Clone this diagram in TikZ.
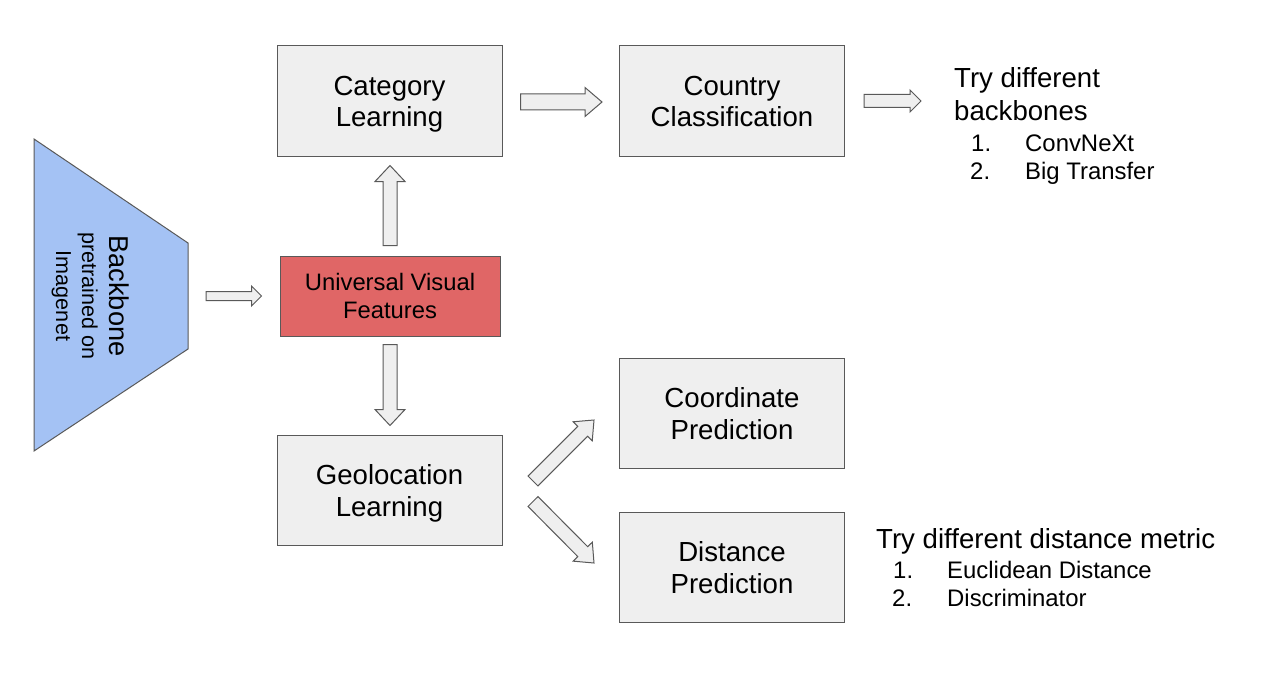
\documentclass[tikz,border=0pt]{standalone}
\usepackage{fontspec}
\setmainfont{Liberation Sans}
\usetikzlibrary{calc}
\definecolor{edge}{HTML}{595959}
\definecolor{boxfill}{HTML}{EFEFEF}
\definecolor{bbfill}{HTML}{A4C2F4}
\definecolor{uvffill}{HTML}{E06666}
\tikzset{
  procbox/.style={draw=edge, fill=boxfill, line width=1pt, minimum width=225pt, minimum height=110pt, inner sep=0pt, align=center, font=\fontsize{27.6}{32}\selectfont},
  uvfbox/.style={draw=edge, fill=uvffill, line width=1pt, minimum width=220pt, minimum height=80pt, inner sep=0pt, align=center, font=\fontsize{23.8}{28}\selectfont},
  barrow/.style={draw=edge, fill=boxfill, line width=1pt, line join=miter},
  bigtxt/.style={anchor=base west, inner sep=0pt, font=\fontsize{27.6}{32}\selectfont},
  smalltxt/.style={anchor=base west, inner sep=0pt, font=\fontsize{23.9}{28}\selectfont},
  rottxt/.style={rotate=-90, anchor=base, inner sep=0pt},
}
\newcommand\twolines[2]{\rule{0pt}{26pt}#1\\#2\rule[-6pt]{0pt}{6pt}}
% #1 tail, #2 tip, #3 shaft half width, #4 head half width, #5 head length
\newcommand\blockarrow[5]{%
  \draw[barrow] ($(#1)!#3!90:(#2)$) -- ($($(#2)!#5!(#1)$)!#3!90:(#2)$) -- ($($(#2)!#5!(#1)$)!#4!90:(#2)$) -- (#2) -- ($($(#2)!#5!(#1)$)!#4!-90:(#2)$) -- ($($(#2)!#5!(#1)$)!#3!-90:(#2)$) -- ($(#1)!#3!-90:(#2)$) -- cycle;}
\begin{document}
\begin{tikzpicture}[x=1pt,y=-1pt]
\useasboundingbox[fill=white] (0,0) rectangle (1273,682);
% backbone trapezoid
\coordinate (bbtl) at (34,139);
\coordinate (bbbl) at (34,451);
\coordinate (bbtr) at (188,243);
\coordinate (bbbr) at (188,349);
\draw[draw=edge, fill=bbfill, line width=1pt, line join=miter] (bbtl) -- (bbtr) -- (bbbr) -- (bbbl) -- cycle;
\node[rottxt, font=\fontsize{27.2}{32}\selectfont] (bb1) at (109,296) {Backbone};
\node[rottxt, font=\fontsize{21.6}{26}\selectfont] (bb2) at (82,296) {pretrained on};
\node[rottxt, font=\fontsize{21.6}{26}\selectfont] (bb3) at (56,296) {Imagenet};
% boxes
\node[procbox] (cat) at (389.5,101) {\twolines{Category}{Learning}};
\node[procbox] (country) at (732,101) {\twolines{Country}{Classification}};
\node[uvfbox] (uvf) at (390,296) {Universal Visual\\Features};
\node[procbox] (geo) at (389.5,490) {\twolines{Geolocation}{Learning}};
\node[procbox] (coord) at (732,413) {\twolines{Coordinate}{Prediction}};
\node[procbox] (dist) at (732,567) {\twolines{Distance}{Prediction}};
% right texts
\node[bigtxt] (t1) at (954,88) {Try different};
\node[bigtxt] (t2) at (954,121) {backbones};
\node[smalltxt] (t3n) at (971,151) {1.};
\node[smalltxt] (t3) at (1025,151) {ConvNeXt};
\node[smalltxt] (t4n) at (970,179) {2.};
\node[smalltxt] (t4) at (1025,179) {Big Transfer};
\node[bigtxt] (d1) at (876,548) {Try different distance metric};
\node[smalltxt] (d2n) at (893,578) {1.};
\node[smalltxt] (d2) at (947,578) {Euclidean Distance};
\node[smalltxt] (d3n) at (892,606) {2.};
\node[smalltxt] (d3) at (947,606) {Discriminator};
% arrow end points
\coordinate (a1s) at ($(bbbr)!0.5!(bbtr)+(18,0)$);
\coordinate (a1e) at ($(uvf.west)+(-18,0)$);
\coordinate (a2s) at ($(cat.east)+(18,1)$);
\coordinate (a2e) at ($(country.west)+(-17,1)$);
\coordinate (a3s) at ($(country.east)+(19,0)$);
\coordinate (a3e) at ($(country.east)+(76,0)$);
\coordinate (a4s) at ($(uvf.north)+(0,-10)$);
\coordinate (a4e) at ($(cat.south)+(0.5,9)$);
\coordinate (a5s) at ($(uvf.south)+(0,8)$);
\coordinate (a5e) at ($(geo.north)+(0.5,-9)$);
\coordinate (a6s) at (533,481);
\coordinate (a6e) at (594,420);
\coordinate (a7s) at (533,501.5);
\coordinate (a7e) at (594,563);
\blockarrow{a1s}{a1e}{4.5pt}{10pt}{10pt}
\blockarrow{a2s}{a2e}{8pt}{14.5pt}{17pt}
\blockarrow{a3s}{a3e}{6.5pt}{11pt}{11pt}
\blockarrow{a4s}{a4e}{7pt}{15pt}{16pt}
\blockarrow{a5s}{a5e}{7pt}{15pt}{16pt}
\blockarrow{a6s}{a6e}{7pt}{13.5pt}{16pt}
\blockarrow{a7s}{a7e}{7pt}{13.5pt}{16pt}
\end{tikzpicture}
\end{document}
